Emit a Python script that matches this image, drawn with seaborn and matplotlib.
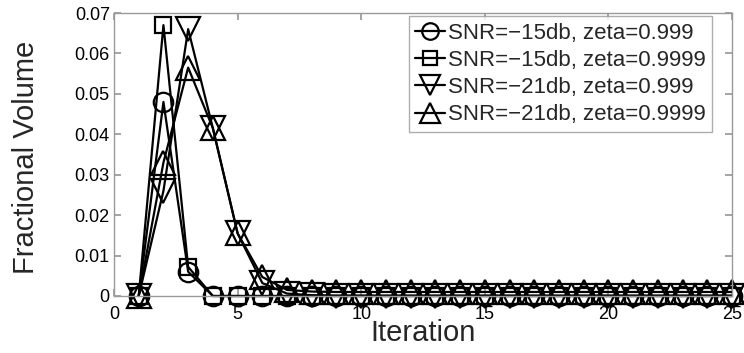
import numpy as np
import pandas as pd
import matplotlib
matplotlib.use("Agg")
import matplotlib.pyplot as plt
import seaborn as sns

sns.set_theme(style="white")
plt.rcParams['font.family'] = ['Liberation Sans', 'DejaVu Sans']

iterations = list(range(1, 26))
s15_999 = [0, 0.048, 0.006, 0, 0, 0, 0, 0, 0, 0, 0, 0, 0, 0, 0, 0, 0, 0, 0, 0, 0, 0, 0, 0, 0]
s15_9999 = [0, 0.067, 0.0072, 0, 0, 0, 0, 0, 0, 0, 0, 0, 0, 0, 0, 0, 0, 0, 0, 0, 0, 0, 0, 0, 0]
s21_999 = [0, 0.026, 0.066, 0.0415, 0.0155, 0.0032, 0.0006, 0.0002, 0.0001, 0.0001, 0.0001, 0.0001, 0.0001,
           0.0001, 0.0001, 0.0001, 0.0001, 0.0001, 0.0001, 0.0001, 0.0001, 0.0001, 0.0001, 0.0001, 0.0001]
s21_9999 = [0, 0.033, 0.0565, 0.0415, 0.0155, 0.0047, 0.0015, 0.0011, 0.001, 0.001, 0.001, 0.001, 0.001,
            0.001, 0.001, 0.001, 0.001, 0.001, 0.001, 0.001, 0.001, 0.001, 0.001, 0.001, 0.001]
labels = ["SNR=\u221215db, zeta=0.999", "SNR=\u221215db, zeta=0.9999",
          "SNR=\u221221db, zeta=0.999", "SNR=\u221221db, zeta=0.9999"]
markers = ["o", "s", "v", "^"]
msizes = [14, 11.5, 17, 17]

fig = plt.figure(figsize=(7.44, 3.53), dpi=100)
ax = fig.add_axes([114 / 744, 57 / 353, 618 / 744, 283 / 353])

for ys, lab, m, ms in zip([s15_999, s15_9999, s21_999, s21_9999], labels, markers, msizes):
    df = pd.DataFrame({"Iteration": iterations, "v": ys})
    sns.lineplot(data=df, x="Iteration", y="v", ax=ax, color="black", linewidth=1.6,
                 marker=m, markersize=ms, markerfacecolor="none", markeredgecolor="black",
                 markeredgewidth=1.6, label=lab, clip_on=False)

ax.set_xlim(0, 25)
ax.set_ylim(0, 0.07)
ax.set_xticks([0, 5, 10, 15, 20, 25])
ax.set_yticks([0, 0.01, 0.02, 0.03, 0.04, 0.05, 0.06, 0.07])
ax.set_yticklabels(["0", "0.01", "0.02", "0.03", "0.04", "0.05", "0.06", "0.07"])
ax.tick_params(direction="in", length=5, color="#999999", labelsize=13,
               top=True, right=True, bottom=True, left=True, labelcolor="black", pad=3)
ax.tick_params(axis="x", pad=7)
for sp in ax.spines.values():
    sp.set_color("#999999")
    sp.set_linewidth(1.0)
ax.set_xlabel("Iteration", fontsize=21, labelpad=-3)
ax.set_ylabel("Fractional Volume", fontsize=21)
ax.yaxis.set_label_coords(-0.12, 0.49)

leg = ax.legend(loc="upper right", fontsize=16, frameon=True, fancybox=False,
                handlelength=1.35, handletextpad=0.1, borderpad=0.3, labelspacing=0.28,
                borderaxespad=0, markerscale=0.85,
                bbox_to_anchor=(712 / 744, 1 - 16 / 353), bbox_transform=fig.transFigure)
leg.get_frame().set_edgecolor("#999999")
leg.get_frame().set_linewidth(1.0)

fig.savefig("out.png", dpi=100)
